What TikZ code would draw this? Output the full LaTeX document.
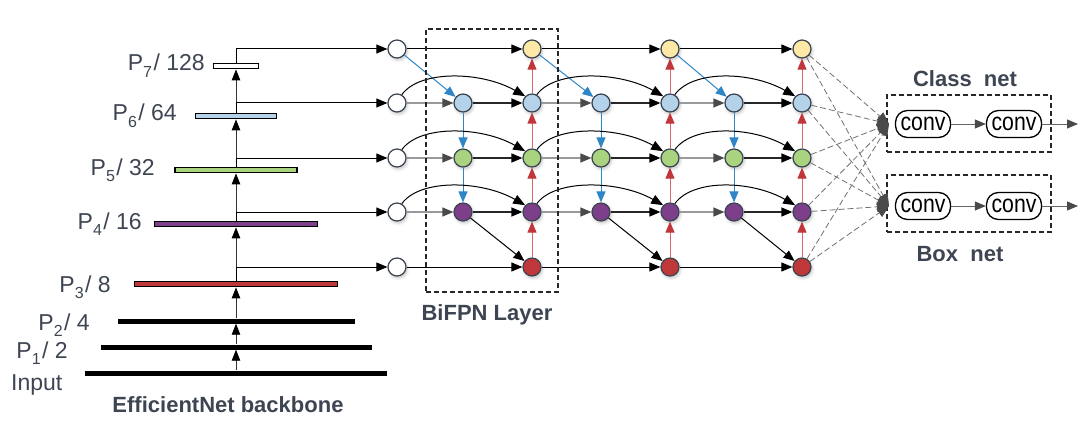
\documentclass[tikz,border=0pt]{standalone}
\usepackage{fontspec}
\usepackage{graphicx}
\setmainfont{Liberation Sans}
\usetikzlibrary{arrows.meta,calc,shadows.blur}
\definecolor{txt}{HTML}{3E4552}
\definecolor{nodeborder}{HTML}{3A4350}
\definecolor{rowc7}{HTML}{FDE8A6}
\definecolor{rowc6}{HTML}{B4D3EA}
\definecolor{rowc5}{HTML}{A9D37F}
\definecolor{rowc4}{HTML}{7D3F8A}
\definecolor{rowc3}{HTML}{C0373A}
\definecolor{bluearr}{HTML}{2F86C6}
\definecolor{redline}{HTML}{D9646A}
\definecolor{redhead}{HTML}{C0363A}
\definecolor{grayline}{HTML}{9A9A9A}
\definecolor{grayhead}{HTML}{4A4A4A}
\definecolor{dashgray}{HTML}{707070}
\newcommand\Psub[1]{P\raisebox{-0.3em}{\fontsize{16}{16}\selectfont #1}\hspace{1.5pt}}
\begin{document}
\begin{tikzpicture}[x=1pt,y=-1pt,
  fnode/.style={circle, draw=nodeborder, line width=1.2pt, minimum size=18pt, inner sep=0pt,
    blur shadow={shadow xshift=1.2pt, shadow yshift=-2pt, shadow blur radius=3pt, shadow opacity=25}},
  bar/.style={draw=black, line width=1.3pt, minimum height=5.5pt, inner sep=0pt},
  blackbar/.style={fill=black, inner sep=0pt, minimum height=5pt},
  lbl/.style={text=txt, font=\fontsize{23}{25}\selectfont, inner sep=0pt},
  title/.style={text=txt, font=\fontsize{22}{24}\selectfont\bfseries, inner sep=0pt},
  bbarrow/.style={draw=black!80, line width=0.9pt, -{Triangle[length=11pt,width=8.5pt,color=black]}},
  blkarrow/.style={draw=black, line width=1pt, -{Triangle[length=11pt,width=9pt,color=black]}},
  thkarrow/.style={draw=black!85, line width=1.5pt, -{Triangle[length=11pt,width=9pt,color=black]}},
  arcarrow/.style={draw=black, line width=1pt, -{Triangle[length=12pt,width=9.5pt,color=black]}},
  grayarrow/.style={draw=grayline, line width=1.3pt, -{Triangle[length=11pt,width=9pt,color=grayhead]}},
  bluearrow/.style={draw=bluearr, line width=1pt, -{Triangle[length=11pt,width=9pt,color=bluearr]}},
  redarrow/.style={draw=redline, line width=1pt, -{Triangle[length=11pt,width=9pt,color=redhead]}},
  dasharrow/.style={draw=dashgray, line width=0.8pt, dash pattern=on 6pt off 3pt, -{Triangle[length=12pt,width=10pt,color=grayhead]}},
  netbox/.style={draw=black!85, line width=1.2pt, dash pattern=on 5pt off 3pt, minimum width=164pt, minimum height=57pt, inner sep=0pt},
  convnode/.style={draw=black, line width=1.3pt, rounded corners=12pt, minimum width=55pt, minimum height=27pt, inner sep=0pt, font=\fontsize{25}{25}\selectfont}
]
\useasboundingbox (0,0) rectangle (1088,428);

% ---------------- backbone ----------------
\node[blackbar, minimum width=302pt] (bin) at (236,373) {};
\node[blackbar, minimum width=271pt] (b1) at (236,347) {};
\node[blackbar, minimum width=237pt] (b2) at (236,321) {};
\node[bar, fill=rowc3, minimum width=203pt] (b3) at (236,284) {};
\node[bar, fill=rowc4, minimum width=163pt] (b4) at (236,224) {};
\node[bar, fill=rowc5, minimum width=122pt] (b5) at (236,170) {};
\node[bar, fill=rowc6, minimum width=81pt] (b6) at (236,116) {};
\node[bar, fill=white, minimum width=45pt] (b7) at (236,66) {};

\draw[bbarrow] (bin.north) -- (b1.south);
\draw[bbarrow] (b1.north) -- (b2.south);
\draw[bbarrow] (b2.north) -- (b3.south);
\draw[bbarrow] (b3.north) -- (b4.south);
\draw[bbarrow] (b4.north) -- (b5.south);
\draw[bbarrow] (b5.north) -- (b6.south);
\draw[bbarrow] (b6.north) -- (b7.south);

\node[lbl, anchor=base east] (l7) at (205,71) {\Psub{7}/ 128};
\node[lbl, anchor=base east] (l6) at (177,121) {\Psub{6}/ 64};
\node[lbl, anchor=base east] (l5) at (155,175) {\Psub{5}/ 32};
\node[lbl, anchor=base east] (l4) at (142,229) {\Psub{4}/ 16};
\node[lbl, anchor=base east] (l3) at (111,292) {\Psub{3}/ 8};
\node[lbl, anchor=base east] (l2) at (90,330) {\Psub{2}/ 4};
\node[lbl, anchor=base east] (l1) at (68,358) {\Psub{1}/ 2};
\node[lbl, anchor=base west] (lin) at (11,390) {Input};
\node[title, anchor=base] (bbt) at (228,412) {EfficientNet backbone};

% ---------------- BiFPN nodes ----------------
\foreach \r/\y in {7/49,6/103,5/158,4/212,3/267}
  \node[fnode, fill=white] (in\r) at (397,\y) {};
\foreach \L/\xm/\xo in {1/463/532, 2/601/670, 3/734/802} {
  \foreach \r/\y in {6/103,5/158,4/212}
    \node[fnode, fill=rowc\r] (m\L-\r) at (\xm,\y) {};
  \foreach \r/\y in {7/49,6/103,5/158,4/212,3/267}
    \node[fnode, fill=rowc\r] (o\L-\r) at (\xo,\y) {};
}

% backbone to BiFPN inputs
\draw[blkarrow] (b7.north) |- (in7.west);
\draw[blkarrow] (b6.north) |- (in6.west);
\draw[blkarrow] (b5.north) |- (in5.west);
\draw[blkarrow] (b4.north) |- (in4.west);
\draw[blkarrow] (b3.north) |- (in3.west);

% ---------------- BiFPN edges ----------------
\foreach \L/\P in {1/in, 2/o1-, 3/o2-} {
  \draw[blkarrow] (\P7) -- (o\L-7);
  \draw[bluearrow] (\P7) -- (m\L-6);
  \draw[bluearrow] (m\L-6) -- (m\L-5);
  \draw[bluearrow] (m\L-5) -- (m\L-4);
  \foreach \r in {6,5,4} {
    \draw[grayarrow] (\P\r) -- (m\L-\r);
    \draw[thkarrow] (m\L-\r) -- (o\L-\r);
    \draw[arcarrow] (\P\r.60) .. controls ($(\P\r.60)+(18,-25)$) and ($(o\L-\r.135)+(-44,-25)$) .. (o\L-\r.135);
  }
  \draw[blkarrow] (\P3) -- (o\L-3);
  \draw[blkarrow] (m\L-4) -- (o\L-3);
  \draw[redarrow] (o\L-3) -- (o\L-4);
  \draw[redarrow] (o\L-4) -- (o\L-5);
  \draw[redarrow] (o\L-5) -- (o\L-6);
  \draw[redarrow] (o\L-6) -- (o\L-7);
}

\node[draw=black!85, line width=1.2pt, dash pattern=on 5pt off 3pt, minimum width=132pt, minimum height=263pt, inner sep=0pt] (bifpn) at (492,160.5) {};
\node[title, anchor=base] (bft) at (487,320) {BiFPN Layer};

% ---------------- heads ----------------
\node[netbox] (cbox) at (969,123.5) {};
\node[netbox] (bbox) at (969,203.5) {};
\node[title, anchor=base] (cnt) at (965,87) {Class\ \ net};
\node[title, anchor=base] (bnt) at (960,261) {Box\ \ net};

\node[convnode] (c1) at (923,124) {\scalebox{0.85}[1]{conv}};
\node[convnode] (c2) at (1014,124) {\scalebox{0.85}[1]{conv}};
\node[convnode] (d1) at (923,206) {\scalebox{0.85}[1]{conv}};
\node[convnode] (d2) at (1014,206) {\scalebox{0.85}[1]{conv}};
\coordinate (cout) at (1078,124);
\coordinate (dout) at (1078,206);
\draw[grayarrow, draw=black!60, line width=1pt] (c1) -- (c2);
\draw[grayarrow, draw=black!60, line width=1pt] (c2) -- (cout);
\draw[grayarrow, draw=black!60, line width=1pt] (d1) -- (d2);
\draw[grayarrow, draw=black!60, line width=1pt] (d2) -- (dout);

\coordinate (ctip) at (889,124);
\coordinate (btip) at (889,206);
\foreach \r in {7,6,5,4,3} {
  \draw[dasharrow] (o3-\r) -- (ctip);
  \draw[dasharrow] (o3-\r) -- (btip);
}
\end{tikzpicture}
\end{document}
